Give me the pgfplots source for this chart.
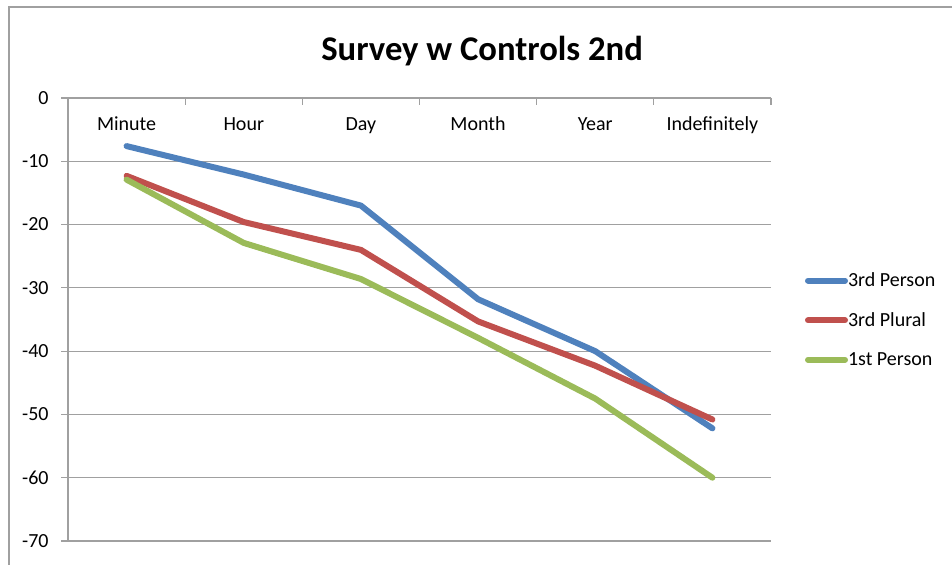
\documentclass[border=0pt]{standalone}
\usepackage{fontspec}
\setmainfont{Carlito}
\usepackage{pgfplots}
\pgfplotsset{compat=1.18}
\definecolor{sblue}{HTML}{4F81BD}
\definecolor{sred}{HTML}{C0504D}
\definecolor{sgreen}{HTML}{9BBB59}
\definecolor{gridgray}{HTML}{A0A0A0}
\begin{document}
\begin{tikzpicture}
\path[use as bounding box] (0,0) rectangle (714pt,423pt);
\draw[gridgray, line width=1.4pt] (6.75pt,-2pt) -- (6.75pt,417.75pt) -- (716pt,417.75pt);
\begin{axis}[
  at={(51pt,17.25pt)}, anchor=south west,
  scale only axis, width=527.25pt, height=332.25pt,
  xmin=0, xmax=6, ymin=-70, ymax=0,
  axis x line*=top, axis y line*=left,
  axis line style={gridgray, line width=0.9pt},
  major tick length=5pt,
  xtick={0,1,2,3,4,5,6}, xticklabels={},
  x tick style={gridgray, line width=0.9pt},
  xtick align=inside,
  extra x ticks={0.5,1.5,2.5,3.5,4.5,5.5},
  extra x tick labels={Minute,Hour,Day,Month,Year,Indefinitely},
  extra x tick style={grid=none, x tick style={draw=none},
    xticklabel style={anchor=base, yshift=-24.75pt}},
  ytick={-70,-60,-50,-40,-30,-20,-10,0},
  yticklabels={-70,-60,-50,-40,-30,-20,-10,0},
  y tick style={gridgray, line width=0.9pt},
  ytick align=outside,
  ymajorgrids, grid style={gridgray, line width=0.9pt},
  tick label style={font=\fontsize{15}{18}\selectfont, black},
  yticklabel style={xshift=-6pt},
  title={Survey w Controls 2nd},
  title style={font=\fontsize{26}{31}\selectfont\bfseries, at={(0.589,1)}, anchor=base, yshift=22pt},
  legend style={draw=none, fill=none, inner sep=0pt, at={(1.048,0.499)}, anchor=west,
    font=\fontsize{15}{18}\selectfont, row sep=14pt, nodes={inner xsep=0pt}},
  legend cell align=left,
  legend image code/.code={\draw[#1, line width=4.5pt, line cap=round] (0.75pt,0pt) -- (28.5pt,0pt);},
  every axis plot/.append style={line width=4.5pt, line join=round, line cap=round},
  clip=false,
]
\addplot[sblue] coordinates {(0.5,-7.6) (1.5,-12.1) (2.5,-17.0) (3.5,-31.8) (4.5,-40.0) (5.5,-52.2)};
\addlegendentry{3rd Person}
\addplot[sred] coordinates {(0.5,-12.3) (1.5,-19.6) (2.5,-24.0) (3.5,-35.3) (4.5,-42.3) (5.5,-50.8)};
\addlegendentry{3rd Plural}
\addplot[sgreen] coordinates {(0.5,-12.9) (1.5,-22.9) (2.5,-28.6) (3.5,-37.9) (4.5,-47.5) (5.5,-60.0)};
\addlegendentry{1st Person}
\end{axis}
\end{tikzpicture}
\end{document}
